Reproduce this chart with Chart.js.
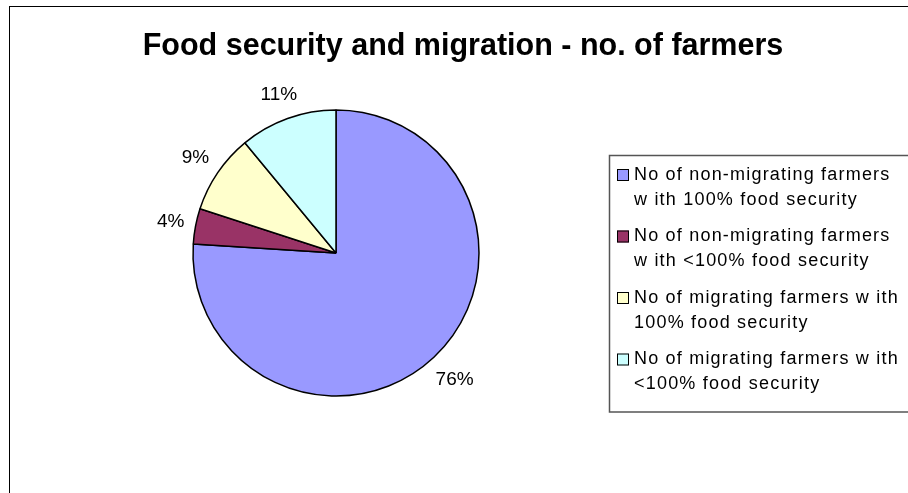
<!DOCTYPE html>
<html>
<head>
<meta charset="utf-8">
<script src="https://cdn.jsdelivr.net/npm/chart.js@4.4.0/dist/chart.umd.min.js"></script>
<style>
body { margin: 0; background: #fff; }
#wrap { width: 908px; height: 493px; }
</style>
</head>
<body>
<div id="wrap"><canvas id="foodChart" width="908" height="493"></canvas></div>
<script>
// pie of farmers by migration / food security (shares in %)
const chartTitle = 'Food security and migration - no. of farmers';
const categories = [
    ['No of non-migrating farmers', 'w ith 100% food security'],
    ['No of non-migrating farmers', 'w ith <100% food security'],
    ['No of migrating farmers w ith', '100% food security'],
    ['No of migrating farmers w ith', '<100% food security']
];
const shares = [76, 4, 9, 11];
const sliceColors = ['#9999FF', '#993366', '#FFFFCC', '#CCFFFF'];

const FONT = 'Arial, "Liberation Sans", sans-serif';

const excelFrame = {
    id: 'excelFrame',
    beforeDraw(chart) {
        const ctx = chart.ctx;
        ctx.save();
        ctx.fillStyle = '#fff';
        ctx.fillRect(0, 0, chart.width, chart.height);
        // outer chart border (right / bottom run off the picture)
        ctx.strokeStyle = '#000';
        ctx.lineWidth = 1;
        ctx.strokeRect(9.5, 6.5, chart.width + 20, chart.height + 20);
        ctx.restore();
    },
    afterDatasetsDraw(chart) {
        const ctx = chart.ctx;
        const meta = chart.getDatasetMeta(0);
        const values = chart.data.datasets[0].data;
        const total = values.reduce((a, c) => a + c, 0);
        ctx.save();
        ctx.font = '19px ' + FONT;
        ctx.fillStyle = '#000';
        ctx.textAlign = 'center';
        ctx.textBaseline = 'middle';
        meta.data.forEach((arc, i) => {
            const p = arc.getProps(['x', 'y', 'startAngle', 'endAngle', 'outerRadius'], true);
            const mid = (p.startAngle + p.endAngle) / 2;
            const text = Math.round(values[i] / total * 100) + '%';
            const w = ctx.measureText(text).width;
            const c = Math.cos(mid), s = Math.sin(mid);
            const d = p.outerRadius + 10 + Math.abs(c) * w / 2 + Math.abs(s) * 10;
            ctx.fillText(text, p.x + c * d, p.y + s * d);
        });
        ctx.restore();
    },
    afterDraw(chart) {
        const ctx = chart.ctx;
        ctx.save();
        // title
        ctx.fillStyle = '#000';
        ctx.font = 'bold 30.5px ' + FONT;
        ctx.textAlign = 'center';
        ctx.textBaseline = 'alphabetic';
        ctx.fillText(chartTitle, 463, 55);

        // legend box
        ctx.strokeStyle = '#555';
        ctx.lineWidth = 1.5;
        ctx.strokeRect(609.5, 155.5, 330, 256.5);

        ctx.font = '18px ' + FONT;
        ctx.textAlign = 'left';
        ctx.textBaseline = 'middle';
        ctx.letterSpacing = '1.2px';
        const colors = chart.data.datasets[0].backgroundColor;
        chart.data.labels.forEach((lines, i) => {
            const y = 175 + i * 61.5;
            ctx.fillStyle = colors[i];
            ctx.fillRect(617, y - 6, 12, 12);
            ctx.strokeStyle = '#000';
            ctx.lineWidth = 1;
            ctx.strokeRect(617.5, y - 5.5, 11, 11);
            ctx.fillStyle = '#000';
            lines.forEach((line, j) => ctx.fillText(line, 634, y + j * 25));
        });
        ctx.restore();
    }
};

const foodChart = document.getElementById('foodChart');
new Chart(foodChart, {
    type: 'pie',
    data: {
        labels: categories,
        datasets: [{
            data: shares,
            backgroundColor: sliceColors,
            borderColor: '#000',
            borderWidth: 1.5,
            radius: 143
        }]
    },
    options: {
        responsive: false,
        animation: false,
        events: [],
        layout: {
            padding: { left: 186, right: 422, top: 103, bottom: 90 }
        },
        plugins: {
            legend: { display: false },
            title: { display: false },
            tooltip: { enabled: false }
        }
    },
    plugins: [excelFrame]
});
</script>
</body>
</html>
